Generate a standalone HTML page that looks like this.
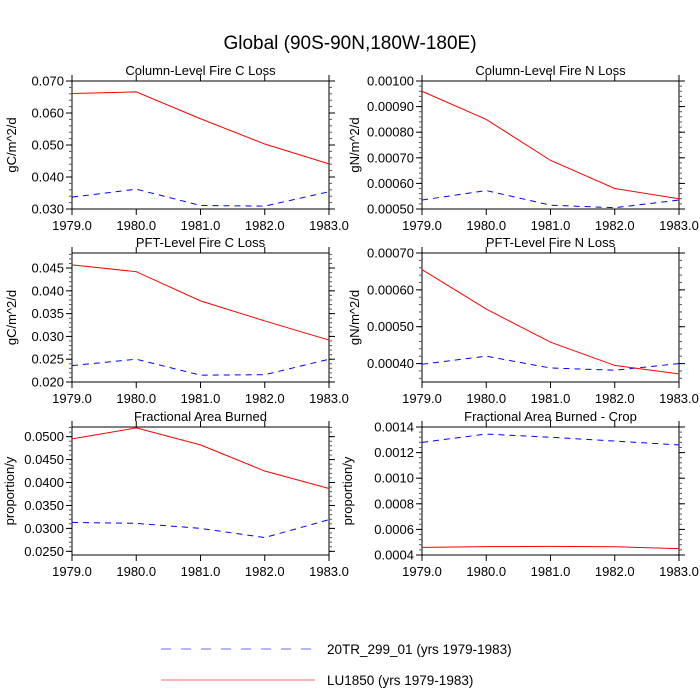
<!DOCTYPE html>
<html><head><meta charset="utf-8"><style>
body{margin:0;background:#fff;}
svg{display:block;font-family:"Liberation Sans",sans-serif;}
</style></head><body>
<svg id="chart" width="700" height="700">
<text x="350" y="49" font-size="19" text-anchor="middle">Global (90S-90N,180W-180E)</text>
<g>
<line x1="161" y1="649" x2="315" y2="649" stroke="#6a6aff" stroke-width="1" stroke-dasharray="10,10"/>
<text x="327" y="654" font-size="13.5">20TR_299_01 (yrs 1979-1983)</text>
<line x1="161" y1="680" x2="315" y2="680" stroke="#ff6a6a" stroke-width="1"/>
<text x="327" y="685" font-size="13.5">LU1850 (yrs 1979-1983)</text>
</g>
</svg>
<script>
const years = [1979, 1980, 1981, 1982, 1983];
const xTickLabels = ["1979.0","1980.0","1981.0","1982.0","1983.0"];
const titles = ["Column-Level Fire C Loss","Column-Level Fire N Loss","PFT-Level Fire C Loss","PFT-Level Fire N Loss","Fractional Area Burned","Fractional Area Burned - Crop"];
const yTitles = ["gC/m^2/d","gN/m^2/d","gC/m^2/d","gN/m^2/d","proportion/y","proportion/y"];
const red1 = [0.0661, 0.0666, 0.0582, 0.0503, 0.0441];
const blue1 = [0.0337, 0.0362, 0.0311, 0.0309, 0.0354];
const red2 = [0.00096, 0.00085, 0.00069, 0.00058, 0.00054];
const blue2 = [0.000535, 0.000572, 0.000515, 0.000505, 0.000535];
const red3 = [0.0457, 0.0442, 0.0378, 0.0334, 0.0292];
const blue3 = [0.0236, 0.0250, 0.0215, 0.0216, 0.0250];
const red4 = [0.000655, 0.000548, 0.000458, 0.000395, 0.000372];
const blue4 = [0.000398, 0.000420, 0.000388, 0.000382, 0.000400];
const red5 = [0.0495, 0.0519, 0.0482, 0.0425, 0.0387];
const blue5 = [0.0313, 0.0311, 0.0300, 0.0280, 0.0319];
const red6 = [0.00046, 0.000465, 0.000467, 0.000464, 0.00045];
const blue6 = [0.00128, 0.001345, 0.00132, 0.00129, 0.00126];
const yMin = [0.030, 0.0005, 0.0200, 0.00035, 0.0242, 0.0004];
const yMax = [0.070, 0.0010, 0.0483, 0.00070, 0.0521, 0.0014];
const yTicks = [
 [0.030,0.040,0.050,0.060,0.070],
 [0.0005,0.0006,0.0007,0.0008,0.0009,0.0010],
 [0.020,0.025,0.030,0.035,0.040,0.045],
 [0.0004,0.0005,0.0006,0.0007],
 [0.025,0.030,0.035,0.040,0.045,0.050],
 [0.0004,0.0006,0.0008,0.0010,0.0012,0.0014]];
const yDigits = [3,5,3,5,4,4];
const redSeries = [red1,red2,red3,red4,red5,red6];
const blueSeries = [blue1,blue2,blue3,blue4,blue5,blue6];

const NS = "http://www.w3.org/2000/svg";
const svg = document.getElementById("chart");
function mk(tag, attrs, parent){const e=document.createElementNS(NS,tag);for(const k in attrs)e.setAttribute(k,attrs[k]);(parent||svg).appendChild(e);return e;}
const colX = [[72,329],[422,679]];
const rowY = [[81,209],[253,382],[427,555]];
const yTitleOff = [60,67,60,67,62,74];
for(let p=0;p<6;p++){
  const [x0,x1]=colX[p%2], [y0,y1]=rowY[Math.floor(p/2)];
  const g=mk("g",{});
  
  
  const xs=v=>x0+(v-years[0])/(years[years.length-1]-years[0])*(x1-x0);
  const ys=v=>y1-(v-yMin[p])/(yMax[p]-yMin[p])*(y1-y0);
  const frame=mk("rect",{x:x0,y:y0,width:x1-x0,height:y1-y0,fill:"none",stroke:"#000","stroke-width":1},g);
  
  
  const t=mk("text",{x:(x0+x1)/2,y:y0-6,"font-size":13,"text-anchor":"middle"},g);
  t.textContent=titles[p];
  
  
  const yt=mk("text",{transform:`translate(${x0-yTitleOff[p]+4},${(y0+y1)/2}) rotate(-90)`,"font-size":13,"text-anchor":"middle"},g);
  yt.textContent=yTitles[p];
  
  
  years.forEach((yr,i)=>{
    const x=xs(yr);
    mk("line",{x1:x,y1:y1,x2:x,y2:y1+6,stroke:"#000"},g);
    mk("line",{x1:x,y1:y0,x2:x,y2:y0-6,stroke:"#000"},g);
    const l=mk("text",{x:x,y:y1+21,"font-size":13,"text-anchor":"middle"},g);
    l.textContent=xTickLabels[i];
    
    
  });
  const tk=yTicks[p], step=tk[1]-tk[0];
  for(let v=tk[0]-step;v<=yMax[p]+1e-12;v+=step/5){
    if(v<yMin[p]-1e-12)continue;
    const y=ys(v);
    mk("line",{x1:x0,y1:y,x2:x0-3,y2:y,stroke:"#555"},g);
    mk("line",{x1:x1,y1:y,x2:x1+3,y2:y,stroke:"#555"},g);
  }
  tk.forEach(v=>{
    const y=ys(v);
    mk("line",{x1:x0,y1:y,x2:x0-6,y2:y,stroke:"#000"},g);
    mk("line",{x1:x1,y1:y,x2:x1+6,y2:y,stroke:"#000"},g);
    const l=mk("text",{x:x0-8,y:y+4.5,"font-size":13,"text-anchor":"end"},g);
    l.textContent=v.toFixed(yDigits[p]);
    
    
  });
  const bp=blueSeries[p].map((v,i)=>xs(years[i])+","+ys(v)).join(" ");
  const b=mk("polyline",{points:bp,fill:"none",stroke:"#0000ff","stroke-width":1,"stroke-dasharray":"6,5"},g);
  
  
  const rp=redSeries[p].map((v,i)=>xs(years[i])+","+ys(v)).join(" ");
  const r=mk("polyline",{points:rp,fill:"none",stroke:"#ff0000","stroke-width":1},g);
  
  
}
</script>
</body></html>
